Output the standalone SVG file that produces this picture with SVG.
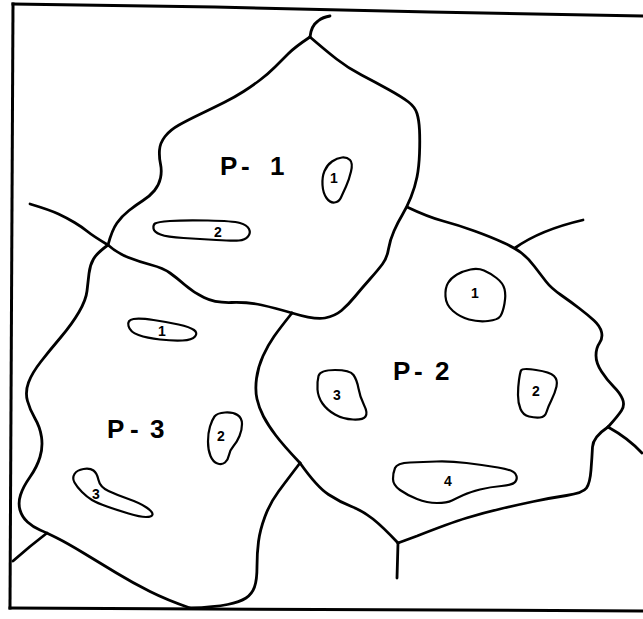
<svg xmlns="http://www.w3.org/2000/svg" width="643" height="619" viewBox="0 0 643 619">
<style>
.frame{fill:none;stroke:#000;stroke-width:3;stroke-linecap:square}
.edge{fill:none;stroke:#000;stroke-width:2.8;stroke-linecap:round;stroke-linejoin:round}
.blob{fill:none;stroke:#000;stroke-width:2.2;stroke-linejoin:round}
.big{font-family:"Liberation Sans",Arial,sans-serif;font-weight:bold;font-size:26px;fill:#000}
.small{font-family:"Liberation Sans",Arial,sans-serif;font-weight:bold;font-size:14px;fill:#000;text-anchor:middle}
</style>
<rect x="0" y="0" width="643" height="619" fill="#fff"/>
<g id="frame">
<path class="frame" d="M13,4 L215,7 L430,12 L643,16"/>
<path class="frame" d="M13,4 L10,608"/>
<path class="frame" d="M10,608 L643,611"/>
</g>
<g id="boundaries">
<path class="edge" d="M108,245 Q112,230 117,223 Q122,216 129,210.5 Q136,205 143,200.5 Q150,196 154.5,190.5 Q159,185 160.5,178 Q162,171 160.5,164 Q159,157 159.5,150 Q160,143 165,136.5 Q170,130 179,125 Q188,120 200.5,114 Q213,108 224,102.5 Q235,97 243.5,91.5 Q252,86 260,80 Q268,74 275,67 Q282,60 288.5,53.5 Q295,47 310,37"/>
<path class="edge" d="M310,37 Q325,50 336.5,59 Q348,68 361.5,75 Q375,82 388.5,89.5 Q402,97 408.5,102 Q415,107 417,113.5 Q419,120 419.5,130 Q420,140 419.5,153.5 Q419,167 417,177 Q415,187 411,197 Q407,207 402.5,214.5 Q398,222 394,231 Q390,240 388.5,249 Q387,258 382.5,264 Q378,270 370,279 Q362,288 355,296.5 Q348,305 341.5,310.5 Q335,316 325,318 Q315,320 292,313"/>
<path class="edge" d="M292,313 Q275,308 261.5,305 Q248,302 231.5,302.5 Q215,303 204,297.5 Q193,292 185,285 Q177,278 170,273 Q163,268 151.5,265 Q140,262 128.5,257.5 Q117,253 108,245"/>
<path class="edge" d="M30,204 Q50,210 58.5,214 Q67,218 74.5,222.5 Q82,227 87.5,231.5 Q93,236 108,245"/>
<path class="edge" d="M310,37 Q311,26 318,21 Q323,17 330,16"/>
<path class="edge" d="M108,245 Q97,253 93.5,259 Q90,265 89,273.5 Q88,282 87,291 Q86,300 79,312 Q72,324 61,337 Q50,350 41,361.5 Q32,373 28.5,382.5 Q25,392 27.5,401 Q30,410 35,418.5 Q40,427 41.5,437 Q43,447 40,457 Q37,467 30,477 Q23,487 20.5,495 Q18,503 20,510 Q22,517 27.5,522 Q33,527 40,530 Q47,533 57,538 Q67,543 83.5,553 Q100,563 116.5,573 Q133,583 150,591.5 Q167,600 190,608"/>
<path class="edge" d="M47,533 Q30,546 13,561"/>
<path class="edge" d="M292,313 Q280,328 274,336.5 Q268,345 263,356 Q258,367 256.5,378.5 Q255,390 257,399 Q259,408 263.5,416.5 Q268,425 275.5,435 Q283,445 300,463"/>
<path class="edge" d="M300,463 Q287,480 278.5,491.5 Q270,503 265,516.5 Q260,530 258.5,541.5 Q257,553 257,566.5 Q257,580 254.5,587 Q252,594 246,598 Q240,602 227.5,604.5 Q215,607 190,608"/>
<path class="edge" d="M300,463 Q317,487 328.5,494.5 Q340,502 351.5,506.5 Q363,511 373,519 Q383,527 398,543"/>
<path class="edge" d="M398,543 L417,536 Q450,523 466.5,518 Q483,513 500,509 Q517,505 533.5,501.5 Q550,498 566.5,495.5 Q583,493 586.5,488 Q590,483 591,470 Q592,457 592.5,447 Q593,437 608,427"/>
<path class="edge" d="M608,427 Q618,416 621.5,410.5 Q625,405 622.5,399 Q620,393 613.5,386.5 Q607,380 601.5,371.5 Q596,363 596,355.5 Q596,348 599.5,343 Q603,338 601.5,332 Q600,326 594,320.5 Q588,315 579.5,308.5 Q571,302 561,295 Q551,288 546,281.5 Q541,275 534.5,266.5 Q528,258 521.5,253 Q515,248 503,242.5 Q491,237 474.5,231 Q458,225 443,221 Q428,217 407,207"/>
<path class="edge" d="M515,248 Q540,230 583,220"/>
<path class="edge" d="M608,427 Q628,438 642,453"/>
<path class="edge" d="M398,543 L397,578"/>
</g>
<g id="P-1">
<text class="big" x="220 241 270" y="175">P-1</text>
<g id="P-1-1">
<path class="blob" d="M350,160 Q353,163 351,171.5 Q349,180 346,186.5 Q343,193 341,197.5 Q339,202 334.5,202.5 Q330,203 326.5,198 Q323,193 322.5,185 Q322,177 324.5,171 Q327,165 332,161.5 Q337,158 342,157.5 Q347,157 350,160 Z"/>
<text class="small" x="334" y="183">1</text>
</g>
<g id="P-1-2">
<path class="blob" d="M170,221 Q183,220 208,220.5 Q233,221 240,223 Q247,225 249,229 Q251,233 248,236.5 Q245,240 239,240.5 Q233,241 216.5,240 Q200,239 183.5,238 Q167,237 160.5,234.5 Q154,232 153.5,228.5 Q153,225 155,223.5 Q157,222 170,221 Z"/>
<text class="small" x="218" y="237">2</text>
</g>
</g>
<g id="P-2">
<text class="big" x="393 414 435" y="380">P-2</text>
<g id="P-2-1">
<path class="blob" d="M484,270.5 Q490,273 496.5,278 Q503,283 504.5,289 Q506,295 504.5,303.5 Q503,312 500.5,316 Q498,320 488,321 Q478,322 469,319.5 Q460,317 453,311 Q446,305 445.5,296.5 Q445,288 448,283 Q451,278 457,274.5 Q463,271 470.5,269.5 Q478,268 484,270.5 Z"/>
<text class="small" x="475" y="298">1</text>
</g>
<g id="P-2-2">
<path class="blob" d="M536,370 Q550,372 554,376 Q558,380 556.5,386.5 Q555,393 551.5,400 Q548,407 546.5,412 Q545,417 540,417.5 Q535,418 529,416.5 Q523,415 520.5,409 Q518,403 518,395 Q518,387 519,380 Q520,373 521,370.5 Q522,368 536,370 Z"/>
<text class="small" x="536" y="396">2</text>
</g>
<g id="P-2-3">
<path class="blob" d="M335,370 Q350,370 353.5,375 Q357,380 358.5,388.5 Q360,397 364,405 Q368,413 365.5,416.5 Q363,420 353,419.5 Q343,419 335,414.5 Q327,410 322.5,403.5 Q318,397 317.5,389.5 Q317,382 318.5,376 Q320,370 335,370 Z"/>
<text class="small" x="337" y="400">3</text>
</g>
<g id="P-2-4">
<path class="blob" d="M410,462.5 Q423,462 436.5,461.5 Q450,461 466.5,463 Q483,465 498,467.5 Q513,470 515.5,474 Q518,478 515.5,481.5 Q513,485 501.5,486 Q490,487 480,489.5 Q470,492 463.5,495 Q457,498 452,500.5 Q447,503 437,503 Q427,503 417,499 Q407,495 400,490 Q393,485 393,479 Q393,473 395,468 Q397,463 410,462.5 Z"/>
<text class="small" x="448" y="486">4</text>
</g>
</g>
<g id="P-3">
<text class="big" x="107 130 150" y="438">P-3</text>
<g id="P-3-1">
<path class="blob" d="M133.5,319 Q140,318 153.5,320 Q167,322 178.5,324.5 Q190,327 194,330 Q198,333 195,336.5 Q192,340 182.5,340.5 Q173,341 160,339.5 Q147,338 138.5,335 Q130,332 128.5,326 Q127,320 133.5,319 Z"/>
<text class="small" x="162" y="336">1</text>
</g>
<g id="P-3-2">
<path class="blob" d="M225,412.5 Q233,412 237.5,415 Q242,418 242,424 Q242,430 239.5,436 Q237,442 233.5,446 Q230,450 229,455 Q228,460 225,462.5 Q222,465 217.5,463.5 Q213,462 210.5,456 Q208,450 208,441.5 Q208,433 210,426.5 Q212,420 214.5,416.5 Q217,413 225,412.5 Z"/>
<text class="small" x="221" y="441">2</text>
</g>
<g id="P-3-3">
<path class="blob" d="M83.5,469 Q90,468 93.5,470.5 Q97,473 98.5,480 Q100,487 108.5,491 Q117,495 128.5,499 Q140,503 146.5,507.5 Q153,512 152.5,514.5 Q152,517 146,517 Q140,517 128.5,513.5 Q117,510 107,506.5 Q97,503 92,500 Q87,497 82,492 Q77,487 74.5,482.5 Q72,478 74.5,474 Q77,470 83.5,469 Z"/>
<text class="small" x="96" y="499">3</text>
</g>
</g>
</svg>
